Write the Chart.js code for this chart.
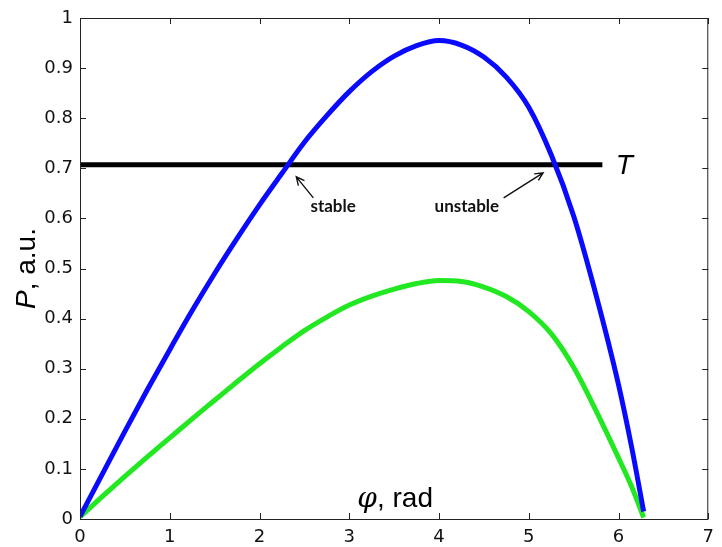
<!DOCTYPE html>
<html>
<head>
<meta charset="utf-8">
<script src="https://cdn.jsdelivr.net/npm/chart.js@4.4.1/dist/chart.umd.min.js"></script>
<style>
  html, body { margin: 0; padding: 0; background: #fff; }
</style>
</head>
<body>
<canvas id="powerChart" width="722" height="547"></canvas>
<script>
// Values (phi in rad, P in a.u.)
const phiBlue = [0, 0.25, 0.5, 0.75, 1.0, 1.25, 1.5, 1.75, 2.0, 2.25, 2.5, 2.75, 3.0, 3.25, 3.5, 3.75, 4.0,
                 4.25, 4.5, 4.75, 5.0, 5.25, 5.5, 5.75, 6.0, 6.15, 6.28];
const pBlue = [0.005, 0.09, 0.175, 0.258, 0.338, 0.416, 0.49, 0.56, 0.627, 0.69, 0.752, 0.805, 0.853, 0.893, 0.924, 0.945, 0.955,
               0.946, 0.922, 0.882, 0.822, 0.727, 0.605, 0.447, 0.268, 0.14, 0.015];

const phiGreen = [0, 0.25, 0.5, 0.75, 1.0, 1.25, 1.5, 1.75, 2.0, 2.25, 2.5, 2.75, 3.0, 3.25, 3.5, 3.75, 4.0,
                  4.25, 4.5, 4.75, 5.0, 5.25, 5.5, 5.75, 6.0, 6.15, 6.28];
const pGreen = [0.004, 0.045, 0.085, 0.124, 0.162, 0.2, 0.237, 0.274, 0.31, 0.344, 0.376, 0.403, 0.427, 0.445, 0.459, 0.47, 0.476,
                0.474, 0.463, 0.444, 0.414, 0.37, 0.303, 0.216, 0.122, 0.063, 0.003];

const thresholdPhi = [0, 5.82];
const thresholdP = 0.707;

const xTicks = [0, 1, 2, 3, 4, 5, 6, 7];
const yTicks = [0, 0.1, 0.2, 0.3, 0.4, 0.5, 0.6, 0.7, 0.8, 0.9, 1];

// Text notes, placed in data units
const notes = [
    { text: 'stable', x: 2.82, y: 0.623 },
    { text: 'unstable', x: 4.31, y: 0.623 }
];
const arrows = [
    { from: [2.60, 0.641], to: [2.41, 0.683] },
    { from: [4.72, 0.641], to: [5.16, 0.691] }
];

function toPoints(xs, ys) {
    return xs.map((x, i) => ({ x: x, y: ys[i] }));
}

// Box, inward ticks, titles and notes drawn on top of the chart
const matlabStyle = {
    id: 'matlabStyle',
    afterDraw(chart) {
        const ctx = chart.ctx;
        const area = chart.chartArea;
        const xs = chart.scales.x;
        const ys = chart.scales.y;
        const tick = 6;

        ctx.save();
        ctx.strokeStyle = '#222';
        ctx.lineWidth = 1;
        ctx.strokeRect(area.left + 0.5, area.top + 0.5, area.right - area.left - 1, area.bottom - area.top);

        ctx.beginPath();
        xTicks.forEach(v => {
            const px = Math.round(xs.getPixelForValue(v)) + 0.5;
            ctx.moveTo(px, area.bottom);
            ctx.lineTo(px, area.bottom - tick);
            ctx.moveTo(px, area.top);
            ctx.lineTo(px, area.top + tick);
        });
        yTicks.forEach(v => {
            const py = Math.round(ys.getPixelForValue(v)) + 0.5;
            ctx.moveTo(area.left, py);
            ctx.lineTo(area.left + tick, py);
            ctx.moveTo(area.right, py);
            ctx.lineTo(area.right - tick, py);
        });
        ctx.stroke();

        // arrows
        ctx.strokeStyle = '#111';
        ctx.lineWidth = 1.4;
        arrows.forEach(a => {
            const x1 = xs.getPixelForValue(a.from[0]), y1 = ys.getPixelForValue(a.from[1]);
            const x2 = xs.getPixelForValue(a.to[0]), y2 = ys.getPixelForValue(a.to[1]);
            const ang = Math.atan2(y2 - y1, x2 - x1);
            ctx.beginPath();
            ctx.moveTo(x1, y1);
            ctx.lineTo(x2, y2);
            ctx.moveTo(x2 - 9 * Math.cos(ang - 0.45), y2 - 9 * Math.sin(ang - 0.45));
            ctx.lineTo(x2, y2);
            ctx.lineTo(x2 - 9 * Math.cos(ang + 0.45), y2 - 9 * Math.sin(ang + 0.45));
            ctx.stroke();
        });

        // notes
        ctx.fillStyle = '#111';
        ctx.font = 'bold 17px Lato';
        ctx.textAlign = 'center';
        ctx.textBaseline = 'middle';
        notes.forEach(n => {
            ctx.fillText(n.text, xs.getPixelForValue(n.x), ys.getPixelForValue(n.y));
        });

        // T label
        ctx.fillStyle = '#000';
        ctx.font = 'italic 28px "Liberation Sans"';
        ctx.textAlign = 'left';
        ctx.fillText('T', xs.getPixelForValue(5.97), ys.getPixelForValue(thresholdP) + 1);

        // x title inside the axes
        ctx.textBaseline = 'alphabetic';
        let px = xs.getPixelForValue(3.09);
        const py = ys.getPixelForValue(0.024);
        ctx.font = 'italic 28px "DejaVu Serif"';
        ctx.fillText('\u03C6', px, py);
        px += ctx.measureText('\u03C6').width;
        ctx.font = '28px "Liberation Sans"';
        ctx.fillText(', rad', px, py);

        // y title, rotated
        ctx.translate(area.left - 53, (area.top + area.bottom) / 2);
        ctx.rotate(-Math.PI / 2);
        ctx.textBaseline = 'middle';
        ctx.font = 'italic 28px "Liberation Sans"';
        const w1 = ctx.measureText('P').width;
        ctx.font = '28px "Liberation Sans"';
        const w2 = ctx.measureText(', a.u.').width;
        const tx = -(w1 + w2) / 2;
        ctx.font = 'italic 28px "Liberation Sans"';
        ctx.fillText('P', tx, 0);
        ctx.font = '28px "Liberation Sans"';
        ctx.fillText(', a.u.', tx + w1, 0);
        ctx.restore();
    }
};

const ctx = document.getElementById('powerChart').getContext('2d');
const chart = new Chart(ctx, {
    type: 'scatter',
    data: {
        datasets: [{
            label: 'P1',
            data: toPoints(phiBlue, pBlue),
            borderColor: '#0a0aff',
            borderWidth: 5,
            showLine: true,
            pointRadius: 0,
            cubicInterpolationMode: 'monotone',
            order: 0
        }, {
            label: 'P2',
            data: toPoints(phiGreen, pGreen),
            borderColor: '#22e822',
            borderWidth: 5,
            showLine: true,
            pointRadius: 0,
            cubicInterpolationMode: 'monotone',
            order: 1
        }, {
            label: 'T',
            data: thresholdPhi.map(x => ({ x: x, y: thresholdP })),
            borderColor: '#000',
            borderWidth: 5,
            showLine: true,
            pointRadius: 0,
            order: 2
        }]
    },
    options: {
        responsive: false,
        animation: false,
        devicePixelRatio: 1,
        layout: {
            padding: { top: 18, right: 7, left: 0, bottom: 0 }
        },
        plugins: {
            legend: { display: false },
            tooltip: { enabled: false }
        },
        scales: {
            x: {
                type: 'linear',
                min: 0,
                max: 7,
                afterBuildTicks: scale => { scale.ticks = xTicks.map(v => ({ value: v })); },
                afterFit: scale => { scale.height = 28; },
                grid: { display: false, drawTicks: false },
                border: { display: false },
                ticks: {
                    padding: 8,
                    color: '#111',
                    font: { family: 'DejaVu Sans', size: 18 },
                    callback: v => String(v)
                }
            },
            y: {
                type: 'linear',
                min: 0,
                max: 1,
                afterBuildTicks: scale => { scale.ticks = yTicks.map(v => ({ value: v })); },
                afterFit: scale => { scale.width = 80; },
                grid: { display: false, drawTicks: false },
                border: { display: false },
                ticks: {
                    padding: 7,
                    color: '#111',
                    font: { family: 'DejaVu Sans', size: 18 },
                    callback: v => String(v)
                }
            }
        }
    },
    plugins: [matlabStyle]
});
</script>
</body>
</html>
